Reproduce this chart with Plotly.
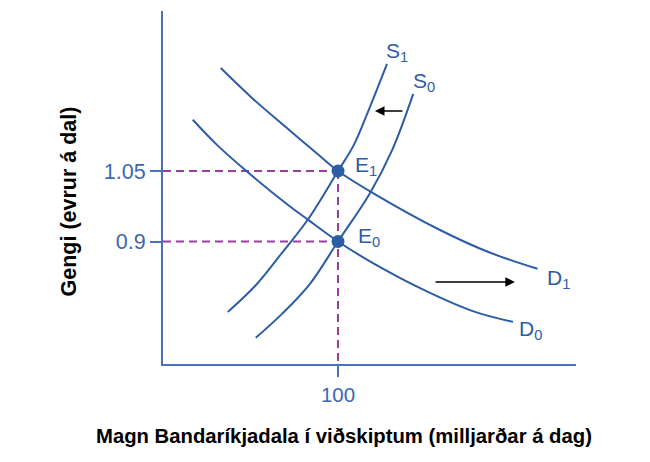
import plotly.graph_objects as go

# ---- data ----
D0_x = [17, 31, 47, 70, 83, 100, 120, 149, 177, 200]
D0_y = [1.159, 1.105, 1.052, 0.982, 0.946, 0.90, 0.854, 0.797, 0.752, 0.729]
D1_x = [33, 51, 70, 89, 100, 120, 158, 187, 214]
D1_y = [1.269, 1.205, 1.144, 1.084, 1.05, 1.003, 0.925, 0.876, 0.842]
S0_x = [53, 68, 84, 100, 118, 131, 143]
S0_y = [0.695, 0.746, 0.810, 0.90, 1.001, 1.095, 1.214]
S1_x = [37, 53, 68, 83, 100, 109, 118, 128]
S1_y = [0.75, 0.807, 0.876, 0.948, 1.05, 1.105, 1.184, 1.278]

E_x = [100, 100]
E_y = [0.90, 1.05]

x_tickvals = [100]
x_ticktext = ["100"]
y_tickvals = [0.9, 1.05]
y_ticktext = ["0.9", "1.05"]

X_RANGE = [0, 236]
Y_RANGE = [0.6394, 1.3904]

x_title = "Magn Bandaríkjadala í viðskiptum (milljarðar á dag)"
y_title = "Gengi (evrur á dal)"

# ---- styles ----
CURVE = "#2d5ca6"
AXIS = "#4a72b8"
TICKTXT = "#3b67b1"
PURPLE = "#9a3d9e"
FONT = "Liberation Sans, Arial, sans-serif"

fig = go.Figure()

dash = dict(color=PURPLE, width=2, dash="8px,5px")
# dashed guide lines
fig.add_trace(go.Scatter(x=[X_RANGE[0], E_x[1]], y=[E_y[1], E_y[1]], mode="lines",
                         line=dash, hoverinfo="skip", showlegend=False))
fig.add_trace(go.Scatter(x=[X_RANGE[0], E_x[0]], y=[E_y[0], E_y[0]], mode="lines",
                         line=dash, hoverinfo="skip", showlegend=False))
fig.add_trace(go.Scatter(x=[E_x[1], E_x[1]], y=[E_y[1], Y_RANGE[0]], mode="lines",
                         line=dash, hoverinfo="skip", showlegend=False))

for xs, ys in [(D0_x, D0_y), (D1_x, D1_y), (S0_x, S0_y), (S1_x, S1_y)]:
    fig.add_trace(go.Scatter(x=xs, y=ys, mode="lines",
                             line=dict(color=CURVE, width=2, shape="spline", smoothing=1.0),
                             hoverinfo="skip", showlegend=False))

fig.add_trace(go.Scatter(x=E_x, y=E_y, mode="markers",
                         marker=dict(color=CURVE, size=13),
                         hoverinfo="skip", showlegend=False))

lab_font = dict(family=FONT, size=21, color=CURVE)
labels = [
    ("S<sub>1</sub>", S1_x[-1], S1_y[-1], -3, 12),
    ("S<sub>0</sub>", S0_x[-1], S0_y[-1], -2, 12),
    ("E<sub>1</sub>", E_x[1], E_y[1], 15, 5),
    ("E<sub>0</sub>", E_x[0], E_y[0], 18, 5),
    ("D<sub>1</sub>", D1_x[-1], D1_y[-1], 7, -10),
    ("D<sub>0</sub>", D0_x[-1], D0_y[-1], 4, -8),
]
ann = []
for t, x, y, dx, dy in labels:
    ann.append(dict(text=t, x=x, y=y, xref="x", yref="y", xshift=dx, yshift=dy,
                    xanchor="left", yanchor="middle", showarrow=False, font=lab_font))

# shift arrows
ann.append(dict(x=121.1, y=1.1777, ax=137.7, ay=1.1777, xref="x", yref="y",
                axref="x", ayref="y", text="", showarrow=True, arrowhead=2,
                arrowsize=1.2, arrowwidth=1.6, arrowcolor="black"))
ann.append(dict(x=201.1, y=0.8138, ax=154.9, ay=0.8138, xref="x", yref="y",
                axref="x", ayref="y", text="", showarrow=True, arrowhead=2,
                arrowsize=1.2, arrowwidth=1.6, arrowcolor="black"))

# axis titles
ann.append(dict(text="<b>" + x_title + "</b>", x=0.438, y=-0.204, xref="paper", yref="paper",
                xanchor="center", yanchor="middle", showarrow=False,
                font=dict(family=FONT, size=20.3, color="black")))
ann.append(dict(text="<b>" + y_title + "</b>", x=-0.2276, y=0.4603, xref="paper", yref="paper",
                xanchor="center", yanchor="middle", showarrow=False, textangle=-90,
                font=dict(family=FONT, size=21.5, color="black")))

fig.update_layout(
    width=650, height=462, autosize=False,
    margin=dict(l=155, r=82, t=3, b=106, pad=0),
    paper_bgcolor="white", plot_bgcolor="white",
    annotations=ann,
    xaxis=dict(range=X_RANGE, showline=True, linecolor=AXIS, linewidth=2, showgrid=False,
               zeroline=False, ticks="outside", ticklen=11, tickwidth=2, tickcolor=AXIS,
               tickvals=x_tickvals, ticktext=x_ticktext,
               tickfont=dict(family=FONT, size=20.5, color=TICKTXT)),
    yaxis=dict(range=Y_RANGE, showline=True, linecolor=AXIS, linewidth=2, showgrid=False,
               zeroline=False, ticks="outside", ticklen=11, tickwidth=2, tickcolor=AXIS,
               tickvals=y_tickvals, ticktext=y_ticktext,
               tickfont=dict(family=FONT, size=21.5, color=TICKTXT)),
)

fig.write_html("out.html")
